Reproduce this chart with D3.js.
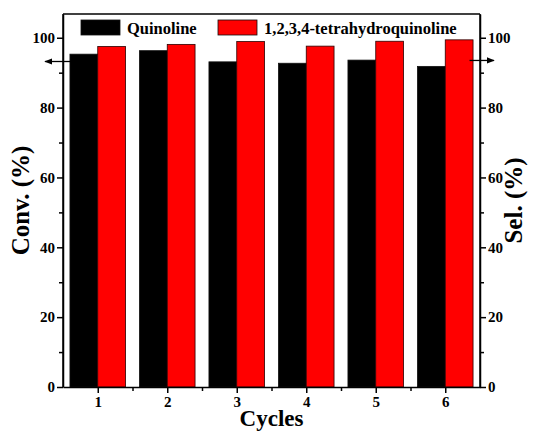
<!DOCTYPE html>
<html>
<head>
<meta charset="utf-8">
<script src="https://cdn.jsdelivr.net/npm/d3@7"></script>
<style>
  body { margin: 0; background: #fff; }
  svg text { font-family: "Liberation Serif", "Times New Roman", serif; font-weight: bold; fill: #000; }
  .axis path, .axis line { stroke: #000; stroke-width: 1.5; }
</style>
</head>
<body>
<div id="chart"></div>
<script>
const cycles = [1, 2, 3, 4, 5, 6];
const conversion = [95.3, 96.3, 93.1, 92.7, 93.6, 91.8];
const selectivity = [97.5, 98.1, 98.9, 97.6, 99.0, 99.4];
const seriesNames = ["Quinoline", "1,2,3,4-tetrahydroquinoline"];
const yTicks = [0, 20, 40, 60, 80, 100];

const width = 535, height = 431;
const margin = { top: 14, right: 55, bottom: 44, left: 63 };
const w = width - margin.left - margin.right,
      h = height - margin.top - margin.bottom;
const serif = "'Liberation Serif', 'Times New Roman', serif";

const svg = d3.select("#chart").append("svg")
  .attr("width", width).attr("height", height);
const g = svg.append("g")
  .attr("transform", "translate(" + margin.left + "," + margin.top + ")");

// scales
const x = d3.scaleLinear().domain([0.5, 6.5]).range([0, w]);
const y = d3.scaleLinear().domain([0, 106.8]).range([h, 0]);
const barW = x(1.4) - x(1);

// bars
g.selectAll(".conv").data(cycles).enter().append("rect")
  .attr("x", d => x(d) - barW).attr("width", barW)
  .attr("y", (d, i) => y(conversion[i])).attr("height", (d, i) => h - y(conversion[i]))
  .attr("fill", "#000").attr("stroke", "#111").attr("stroke-width", 0.8);
g.selectAll(".sel").data(cycles).enter().append("rect")
  .attr("x", d => x(d)).attr("width", barW)
  .attr("y", (d, i) => y(selectivity[i])).attr("height", (d, i) => h - y(selectivity[i]))
  .attr("fill", "#ff0000").attr("stroke", "#2a0000").attr("stroke-width", 0.8);

// minor ticks
const minorY = d3.range(10, 106, 20);
const minorX = [1.5, 2.5, 3.5, 4.5, 5.5];
g.append("g").attr("class", "axis").call(d3.axisLeft(y).tickValues(minorY).tickSize(4).tickFormat(""))
  .select(".domain").remove();
g.append("g").attr("class", "axis").attr("transform", "translate(" + w + ",0)")
  .call(d3.axisRight(y).tickValues(minorY).tickSize(4).tickFormat(""))
  .select(".domain").remove();
g.append("g").attr("class", "axis").attr("transform", "translate(0," + h + ")")
  .call(d3.axisBottom(x).tickValues(minorX).tickSize(4).tickFormat(""))
  .select(".domain").remove();

// major axes
const yl = g.append("g").attr("class", "axis")
  .call(d3.axisLeft(y).tickValues(yTicks).tickSize(6).tickSizeOuter(0).tickPadding(2));
const yr = g.append("g").attr("class", "axis").attr("transform", "translate(" + w + ",0)")
  .call(d3.axisRight(y).tickValues(yTicks).tickSize(6).tickSizeOuter(0).tickPadding(2));
const xb = g.append("g").attr("class", "axis").attr("transform", "translate(0," + h + ")")
  .call(d3.axisBottom(x).tickValues(cycles).tickFormat(d3.format("d")).tickSize(6).tickSizeOuter(0).tickPadding(3));
[yl, yr, xb].forEach(a => {
  a.attr("font-family", serif).attr("font-size", 15).attr("font-weight", "bold");
  a.selectAll("text").attr("font-family", serif).style("font-size", "15px");
});

// frame
g.append("line").attr("x1", 0).attr("x2", w).attr("y1", 0).attr("y2", 0)
  .attr("stroke", "#000").attr("stroke-width", 1.5);
g.append("line").attr("x1", 0).attr("x2", 0).attr("y1", 0).attr("y2", h)
  .attr("stroke", "#000").attr("stroke-width", 1.5);
g.append("line").attr("x1", w).attr("x2", w).attr("y1", 0).attr("y2", h)
  .attr("stroke", "#000").attr("stroke-width", 1.5);

// arrows
svg.append("defs").append("marker").attr("id", "arr")
  .attr("viewBox", "0 0 10 10").attr("refX", 9).attr("refY", 5)
  .attr("markerWidth", 8).attr("markerHeight", 6).attr("orient", "auto-start-reverse")
  .append("path").attr("d", "M0,1 L10,5 L0,9 Z").attr("fill", "#000");
g.append("line").attr("x1", x(0.62)).attr("x2", -18).attr("y1", y(93.2)).attr("y2", y(93.2))
  .attr("stroke", "#000").attr("stroke-width", 1.3).attr("marker-end", "url(#arr)");
g.append("line").attr("x1", x(6.35)).attr("x2", w + 14).attr("y1", y(93.5)).attr("y2", y(93.5))
  .attr("stroke", "#000").attr("stroke-width", 1.3).attr("marker-end", "url(#arr)");

// legend
const legend = svg.selectAll(".legend").data(seriesNames).enter().append("g")
  .attr("transform", (d, i) => "translate(" + [81, 218][i] + ",20)");
legend.append("rect").attr("width", 39).attr("height", 15)
  .attr("fill", (d, i) => i === 0 ? "#000" : "#ff0000").attr("stroke", "#111").attr("stroke-width", 0.8);
legend.append("text").attr("x", 46).attr("y", 14).attr("font-family", serif)
  .style("font-size", "16.5px").text(d => d);

// axis titles
svg.append("text").attr("transform", "translate(29," + (margin.top + h / 2) + ") rotate(-90)")
  .attr("text-anchor", "middle").attr("font-family", serif).style("font-size", "25px").text("Conv. (%)");
svg.append("text").attr("transform", "translate(522," + (margin.top + h / 2) + ") rotate(-90)")
  .attr("text-anchor", "middle").attr("font-family", serif).style("font-size", "25px").text("Sel. (%)");
svg.append("text").attr("x", margin.left + w / 2).attr("y", 426)
  .attr("text-anchor", "middle").attr("font-family", serif).style("font-size", "23px").text("Cycles");
</script>
</body>
</html>
